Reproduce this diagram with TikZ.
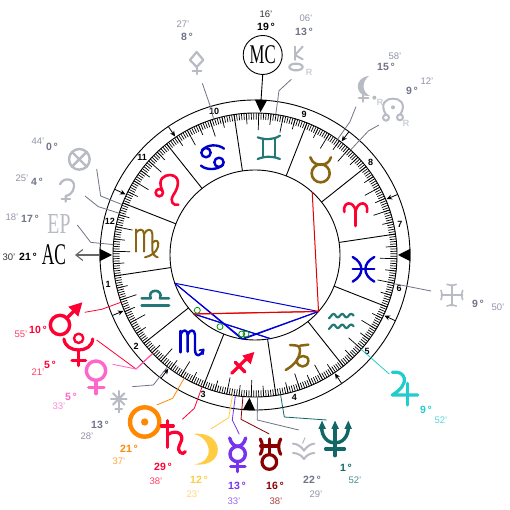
\documentclass[tikz,border=0pt]{standalone}
\usepackage{fontspec}
\setmainfont{Liberation Sans}
\newfontfamily\capsfont{Liberation Serif}
\usetikzlibrary{arrows.meta}
\definecolor{fire}{HTML}{FF0033}
\definecolor{earth}{HTML}{886611}
\definecolor{air}{HTML}{227777}
\definecolor{water}{HTML}{0000CC}
\definecolor{ghost}{HTML}{B8BAC4}
\definecolor{slate}{HTML}{6F7488}
\definecolor{slatelt}{HTML}{9295A8}
\definecolor{orng}{HTML}{FF8800}
\definecolor{yell}{HTML}{FFCC44}
\definecolor{purp}{HTML}{7733EE}
\definecolor{pinkv}{HTML}{FF66CC}
\definecolor{drd}{HTML}{880000}
\definecolor{tealn}{HTML}{116666}
\definecolor{cyanj}{HTML}{22CCCC}
\tikzset{
  center/.style={shift={(255pt,255pt)},x=1pt,y=1pt},
  px/.style={shift={(0pt,510pt)},x=1pt,y=-1pt},
  zA/.style={shift={(0pt,510pt)},x=.33333pt,y=-.33333pt},
  zB/.style={shift={(255pt,510pt)},x=.33333pt,y=-.33333pt},
  zC/.style={shift={(0pt,255pt)},x=.33333pt,y=-.33333pt},
  zD/.style={shift={(255pt,255pt)},x=.33333pt,y=-.33333pt},
  zE/.style={shift={(0pt,310pt)},x=.33333pt,y=-.33333pt},
  ring/.style={draw=black,line width=.9pt},
  cusp/.style={draw=black,line width=.9pt},
  tick/.style={draw=black,line width=.7pt},
  lead/.style={line width=.8pt,line join=round},
  aspb/.style={draw=blue!85!black,line width=1pt},
  aspr/.style={draw=red!90!black,line width=1pt},
  orb/.style={draw=green!60!black,line width=.8pt,fill=none},
  hnum/.style={font=\bfseries\fontsize{9}{10}\selectfont,inner sep=0pt},
  dg/.style={font=\bfseries\fontsize{10.5}{12}\selectfont,inner sep=0pt},
  mn/.style={font=\fontsize{9.5}{11}\selectfont,inner sep=0pt},
  rtag/.style={font=\fontsize{9}{10}\selectfont,text=ghost,inner sep=0pt},
  glyph/.style={line cap=round,line join=round,fill=none},
}
\begin{document}
\begin{tikzpicture}
\useasboundingbox (0pt,0pt) rectangle (510pt,510pt);
\fill[white] (0pt,0pt) rectangle (510pt,510pt);
% ---- wheel ----
\begin{scope}[center]
  \draw[ring] (0,0) circle (155);
  \draw[ring] (0,0) circle (142);
  \draw[ring] (0,0) circle (85);
  \foreach \i in {0,...,359} \draw[tick] ({8.5+\i}:142) -- ({8.5+\i}:135.5);
  \foreach \i in {0,...,11} {
    \draw[cusp] ({8.5+30*\i}:85) -- ({8.5+30*\i}:142);
    \draw[tick] ({18.5+30*\i}:142) -- ({18.5+30*\i}:125);
    \draw[tick] ({28.5+30*\i}:142) -- ({28.5+30*\i}:125);
    \draw[tick] ({13.5+30*\i}:142) -- ({13.5+30*\i}:131);
    \draw[tick] ({23.5+30*\i}:142) -- ({23.5+30*\i}:131);
    \draw[tick] ({33.5+30*\i}:142) -- ({33.5+30*\i}:131);
  }
  % house arrows
  \foreach \a in {23,52.7,124,154.9,203,232.7,304,334.9}
    \draw[line width=.8pt,-{Stealth[length=5.5pt,width=5pt]}] (\a:155) -- (\a:143);
  % angle triangles
  \foreach \a in {0,87.77,180,267.77}
    \fill[black] (\a:143) -- ({\a+2.3}:155.5) -- ({\a-2.3}:155.5) -- cycle;
  % house numbers
  \node[hnum] (h1) at (191.5:150) {1};
  \node[hnum] (h2) at (217.6:150) {2};
  \node[hnum] (h3) at (249.6:149) {3};
  \node[hnum] (h4) at (285.4:148) {4};
  \node[hnum] (h5) at (319.3:148) {5};
  \node[hnum] (h6) at (347:148) {6};
  \node[hnum] (h7) at (12:148) {7};
  \node[hnum] (h8) at (38.6:148) {8};
  \node[hnum] (h9) at (70.7:149) {9};
  \node[hnum] (h10) at (105.9:149) {10};
  \node[hnum] (h11) at (139.2:149) {11};
  \node[hnum] (h12) at (167.1:149) {12};
  % aspect anchors
  \coordinate (aMars) at (199.42:85);
  \coordinate (aJup) at (318.37:85);
  \coordinate (aNode) at (47.7:85);
  \coordinate (aPluto) at (223.85:85);
  \coordinate (aVenus) at (224.05:85);
  \coordinate (aMoon) at (260.88:85);
  \coordinate (aMerc) at (262.05:85);
  \coordinate (aNep) at (280.37:85);
  \draw[aspb] (aMars) -- (aJup);
  \draw[aspb] (aMars) -- (aMoon);
  \draw[aspb] (aMars) -- (aMerc);
  \draw[aspb] (aJup) -- (aMoon);
  \draw[aspb] (aJup) -- (aMerc);
  \draw[aspb] (aPluto) -- (aNep);
  \draw[aspb] (aVenus) -- (aNep);
  \draw[aspr] (aNode) -- (aJup);
  \draw[aspr] (aJup) -- (aPluto);
  \draw[aspr] (aJup) -- (aVenus);
  % ring ends of the leaders
  \coordinate (rMars) at (199.42:142);
  \coordinate (rPluto) at (223.85:142);
  \coordinate (rVenus) at (224.05:142);
  \coordinate (rStar) at (231.97:142);
  \coordinate (rSun) at (240.12:142);
  \coordinate (rSat) at (248.13:142);
  \coordinate (rMoon) at (260.88:142);
  \coordinate (rMerc) at (262.05:142);
  \coordinate (rUra) at (265.13:142);
  \coordinate (rFork) at (270.98:142);
  \coordinate (rNep) at (280.37:142);
  \coordinate (rJup) at (318.37:142);
  \coordinate (rCross) at (348.33:142);
  \coordinate (rChir) at (81.6:142);
  \coordinate (rLil) at (54.47:142);
  \coordinate (rHorse) at (47.7:142);
  \coordinate (rDia) at (106.95:142);
  \coordinate (rPof) at (159.23:142);
  \coordinate (rCer) at (162.92:142);
  \coordinate (rEP) at (175.8:142);
  \coordinate (rAC) at (180:155);
  \coordinate (rMC) at (87.77:155);
\end{scope}
% green orbs
\begin{scope}[px]
  \draw[orb] (197.3,310.3) circle (3);
  \draw[orb] (220,326.7) circle (3);
  \draw[orb] (241.7,334) circle (3);
  \draw[orb] (246,334) circle (3);
\end{scope}
% ---- leaders ----
\begin{scope}[zC]
  \draw[lead,fire] (rMars) -- (305,163) -- (254,172);
  \draw[lead,fire] (rPluto) -- (408,342) -- (290,255);
  \draw[lead,pinkv] (rVenus) -- (408,342) -- (338,328);
  \draw[lead,slate] (rStar) -- (460,390) -- (397,395);
  \draw[lead,orng] (rSun) -- (518,430) -- (470,450);
  \draw[lead,fire] (rSat) -- (583,460) -- (547,493);
\end{scope}
\begin{scope}[px]
  \draw[lead,yell] (rMoon) -- (228.7,417.7) -- (210.7,429);
  \draw[lead,purp] (rMerc) -- (232.3,420) -- (239.3,434.3);
  \draw[lead,drd] (rUra) -- (241,419.3) -- (269.3,434);
  \draw[lead,slate] (rFork) -- (257.3,420) -- (298.7,430);
  \draw[lead,tealn] (rNep) -- (284.3,417) -- (326.7,420);
  \draw[lead,cyanj] (rJup) -- (389.3,374);
  \draw[lead,slate] (rCross) -- (431,291);
\end{scope}
\begin{scope}[zB]
  \draw[lead,slate] (rChir) -- (72,272) -- (109,238);
  \draw[lead,slate] (rLil) -- (285,365) -- (303,320);
  \draw[lead,slate] (rHorse) -- (340,393) -- (372,375);
\end{scope}
\begin{scope}[zA]
  \draw[lead,slate] (rDia) -- (633,325) -- (607,250);
  \draw[lead,slate] (rPof) -- (302,588) -- (290,507);
  \draw[lead,slate] (rCer) -- (295,620) -- (255,588);
  \draw[lead,slate] (rEP) -- (272,727) -- (232,675);
\end{scope}
% ---- zodiac glyphs ----
\begin{scope}[zA,glyph]
  % Cancer
  \draw[water,line width=2.4pt] (618,458) circle (14);
  \draw[water,line width=2.4pt] (606,452) .. controls (620,432) and (655,432) .. (672,446);
  \draw[water,line width=2.4pt] (657,487) circle (14);
  \draw[water,line width=2.4pt] (670,493) .. controls (655,510) and (620,512) .. (603,497);
  % Leo
  \draw[fire,line width=2.6pt] (478,578) circle (11);
  \draw[fire,line width=2.6pt] (487,572) .. controls (470,535) and (495,525) .. (510,525) .. controls (545,527) and (535,565) .. (520,585) .. controls (508,605) and (520,618) .. (535,614);
\end{scope}
\begin{scope}[zE,glyph]
  % Virgo
  \draw[earth,line width=2pt] (407,88) -- (407,155);
  \draw[earth,line width=2pt] (407,100) .. controls (415,85) and (432,85) .. (432,102) -- (432,155);
  \draw[earth,line width=2pt] (432,102) .. controls (440,85) and (457,85) .. (457,102) -- (457,150) .. controls (457,162) and (465,170) .. (473,172);
  \draw[earth,line width=2pt] (457,128) .. controls (470,115) and (478,125) .. (474,140) .. controls (470,155) and (455,168) .. (435,172);
\end{scope}
\begin{scope}[zB,glyph]
  % Gemini
  \draw[air,line width=2.2pt] (8,412) .. controls (30,420) and (55,420) .. (75,407);
  \draw[air,line width=2.2pt] (8,477) .. controls (30,468) and (55,468) .. (75,477);
  \draw[air,line width=2.2pt] (23,416) -- (23,472);
  \draw[air,line width=2.2pt] (60,416) -- (60,472);
  % Taurus
  \draw[earth,line width=2.6pt] (197,520) circle (27);
  \draw[earth,line width=2.6pt] (166,472) .. controls (172,490) and (185,494) .. (197,494) .. controls (210,494) and (222,490) .. (228,472);
  % Aries
  \draw[fire,line width=2.6pt] (302,678) -- (302,632);
  \draw[fire,line width=2.6pt] (302,632) .. controls (295,600) and (262,605) .. (268,636);
  \draw[fire,line width=2.6pt] (302,632) .. controls (310,600) and (342,605) .. (336,636);
\end{scope}
\begin{scope}[zD,glyph]
  % Pisces
  \draw[water,line width=2.4pt] (293,6) .. controls (328,25) and (328,60) .. (293,80);
  \draw[water,line width=2.4pt] (358,6) .. controls (322,25) and (322,60) .. (358,80);
  \draw[water,line width=2.4pt] (293,42) -- (358,42);
  % Aquarius
  \draw[air,line width=2.2pt,rounded corners=2pt] (222,190) -- (236,174) -- (248,190) -- (262,174) -- (274,190) -- (288,174) -- (296,182);
  \draw[air,line width=2.2pt,rounded corners=2pt] (222,222) -- (236,206) -- (248,222) -- (262,206) -- (274,222) -- (288,206) -- (296,214);
  % Capricorn
  \draw[earth,line width=2.5pt] (105,270) .. controls (120,272) and (135,268) .. (135,285) .. controls (135,315) and (110,335) .. (92,345);
  \draw[earth,line width=2.5pt] (135,272) -- (160,269);
  \draw[earth,line width=2.5pt] (125,318) .. controls (128,298) and (162,298) .. (160,318) .. controls (158,340) and (128,340) .. (125,318);
\end{scope}
\begin{scope}[zC,glyph]
  % Libra
  \draw[air,line width=2.6pt] (425,152) -- (507,152);
  \draw[air,line width=2.6pt] (425,130) -- (452,130) .. controls (440,100) and (492,100) .. (480,130) -- (507,130);
  % Scorpio
  \draw[water,line width=2.4pt] (541,228) -- (541,292);
  \draw[water,line width=2.4pt] (541,240) .. controls (546,222) and (563,222) .. (563,240) -- (563,290);
  \draw[water,line width=2.4pt] (563,240) .. controls (568,222) and (585,222) .. (585,240) -- (585,285) .. controls (587,310) and (602,302) .. (610,286);
  \draw[water,line width=1.6pt] (598,286) -- (611,283) -- (609,298);
\end{scope}
% Sagittarius
\begin{scope}[zC,glyph]
  \draw[fire,line width=3.2pt] (695,355) -- (748,303);
  \draw[fire,line width=3.2pt] (706,322) -- (735,351);
  \fill[fire] (763,291) -- (727,302) -- (752,328) -- cycle;
\end{scope}
% ---- planet glyphs ----
\begin{scope}[zC,glyph]
  % Mars
  \draw[fire,line width=3.4pt] (180,210) circle (29);
  \draw[fire,line width=3.4pt] (200,190) -- (232,158);
  \fill[fire] (247,142) -- (205,155) -- (235,185) -- cycle;
  % Pluto
  \draw[fire,line width=2.4pt] (236,250) circle (14);
  \draw[fire,line width=3.2pt] (192,252) .. controls (196,296) and (276,296) .. (278,252);
  \draw[fire,line width=3.2pt] (236,285) -- (236,332);
  \draw[fire,line width=3.2pt] (216,317) -- (257,317);
  % Venus
  \draw[pinkv,line width=3.4pt] (288,347) circle (29);
  \draw[pinkv,line width=3.4pt] (288,377) -- (288,416);
  \draw[pinkv,line width=3.4pt] (266,397) -- (312,397);
  % star
  \draw[ghost,line width=2pt] (356,408) -- (356,472);
  \draw[ghost,line width=2pt] (333,432) -- (380,432);
  \draw[ghost,line width=2pt] (339,415) -- (373,449);
  \draw[ghost,line width=2pt] (373,415) -- (339,449);
  \draw[ghost,line width=2pt] (346,462) -- (366,462);
  % Sun
  \draw[orng,line width=4.4pt] (434,501) circle (44);
  \fill[orng] (434,501) circle (11);
  % Saturn
  \draw[fire,line width=3.2pt] (502,497) -- (502,577);
  \draw[fire,line width=3.2pt] (484,513) -- (520,513);
  \draw[fire,line width=3.2pt] (502,540) .. controls (520,525) and (550,530) .. (545,555) .. controls (540,570) and (530,580) .. (540,592) .. controls (545,598) and (552,596) .. (556,590);
  % Moon
  \fill[yell] (580,537) .. controls (675,525) and (680,640) .. (583,628) .. controls (650,620) and (632,545) .. (580,537) -- cycle;
  % Mercury
  \draw[purp,line width=3.4pt] (713,597) circle (23);
  \draw[purp,line width=3.4pt] (689,549) .. controls (697,582) and (729,582) .. (737,549);
  \draw[purp,line width=3.4pt] (713,620) -- (713,650);
  \draw[purp,line width=3.4pt] (692,635) -- (735,635);
\end{scope}
\begin{scope}[zD,glyph]
  % Uranus
  \draw[drd,line width=3.2pt] (43,621) circle (22);
  \draw[drd,line width=3.2pt] (43,552) -- (43,598);
  \draw[drd,line width=3.2pt] (17,573) -- (69,573);
  \draw[drd,line width=3.2pt] (16,552) .. controls (24,565) and (24,585) .. (16,598);
  \draw[drd,line width=3.2pt] (77,552) .. controls (69,565) and (69,585) .. (77,598);
  % fork glyph
  \draw[ghost,line width=2pt] (114,566) .. controls (125,566) and (140,575) .. (147,587) .. controls (154,575) and (168,566) .. (178,566);
  \draw[ghost,line width=2pt] (114,594) .. controls (125,594) and (140,600) .. (147,612) .. controls (154,600) and (168,594) .. (178,594);
  \draw[ghost,line width=1pt] (143,565) -- (150,548);
  % Neptune
  \draw[tealn,line width=3.4pt] (200,516) .. controls (200,580) and (280,580) .. (280,516);
  \draw[tealn,line width=3.4pt] (240,516) -- (240,602);
  \draw[tealn,line width=3.4pt] (212,582) -- (268,582);
  \fill[tealn] (190,522) -- (201,497) -- (213,522) -- cycle;
  \fill[tealn] (229,522) -- (240,497) -- (252,522) -- cycle;
  \fill[tealn] (268,522) -- (280,497) -- (291,522) -- cycle;
  % Jupiter
  \draw[cyanj,line width=3.2pt] (412,352) .. controls (450,345) and (470,385) .. (412,420) -- (488,420);
  \draw[cyanj,line width=3.2pt] (458,385) -- (458,450);
  % cross glyph
  \draw[ghost,line width=2pt] (590,90) -- (590,152);
  \draw[ghost,line width=2pt] (559,120) -- (622,120);
  \draw[ghost,line width=1.6pt] (576,88) .. controls (585,93) and (595,93) .. (604,88);
  \draw[ghost,line width=1.6pt] (576,153) .. controls (585,148) and (595,148) .. (604,153);
  \draw[ghost,line width=1.6pt] (558,106) .. controls (563,115) and (563,125) .. (558,134);
  \draw[ghost,line width=1.6pt] (623,106) .. controls (618,115) and (618,125) .. (623,134);
\end{scope}
\begin{scope}[zA,glyph]
  % diamond glyph
  \draw[ghost,line width=2.2pt] (590,156) -- (610,180) -- (590,201) -- (570,180) -- cycle;
  \draw[ghost,line width=2.2pt] (590,201) -- (590,222);
  \draw[ghost,line width=2.2pt] (578,213) -- (604,213);
  % circled cross
  \draw[ghost,line width=2.4pt] (238,478) circle (31);
  \draw[ghost,line width=2.4pt] (216,456) -- (260,500);
  \draw[ghost,line width=2.4pt] (260,456) -- (216,500);
  % hook glyph
  \draw[ghost,line width=2.2pt] (180,553) .. controls (190,530) and (225,535) .. (222,560) .. controls (220,580) and (205,587) .. (197,588) -- (197,605);
  \draw[ghost,line width=2.2pt] (185,597) -- (210,597);
\end{scope}
\begin{scope}[zB,glyph]
  % Chiron
  \draw[ghost,line width=2pt] (120,140) -- (120,180);
  \draw[ghost,line width=2pt] (120,165) -- (143,140);
  \draw[ghost,line width=2pt] (120,165) -- (143,178);
  \draw[ghost,line width=2.2pt] (123,201) ellipse (20 and 10);
  % crescent cross
  \fill[ghost] (342,228) .. controls (295,232) and (298,292) .. (345,288) .. controls (322,278) and (318,246) .. (342,228) -- cycle;
  \draw[ghost,line width=2.2pt] (325,285) -- (325,305);
  \draw[ghost,line width=2.2pt] (312,295) -- (340,295);
  \fill[ghost] (358,293) circle (6);
  % horseshoe
  \draw[ghost,line width=2pt] (393,344) .. controls (372,310) and (395,295) .. (414,296) .. controls (433,295) and (456,310) .. (436,344);
  \draw[ghost,line width=2pt] (393,353) circle (9);
  \draw[ghost,line width=2pt] (435,352) circle (9);
  \fill[ghost] (414,322) circle (6);
\end{scope}
% ---- MC and AC ----
\begin{scope}[px]
  \node[circle,draw=black,line width=.9pt,minimum size=39pt,inner sep=0pt] (mc) at (262.7,55) {};
  \node[inner sep=0pt,font=\capsfont\fontsize{27}{27}\selectfont] (mct) at (262.7,55) {\scalebox{.62}[1]{MC}};
  \node[inner sep=0pt,font=\capsfont\fontsize{30}{30}\selectfont] (act) at (54,255) {\scalebox{.58}[1]{AC}};
  \node[inner sep=0pt,font=\capsfont\fontsize{29}{29}\selectfont,text=ghost] (ept) at (59,224) {\scalebox{.68}[1]{EP}};
  \coordinate (acend) at (75,255);
  \draw[black,line width=.9pt] (mc.south) -- (rMC);
  \draw[black!60,line width=1.1pt,-{Straight Barb[length=7pt,width=11pt]}] (rAC) -- (acend);
  % degree labels
  \node[dg,text=black] (d1) at (266,27) {19\,°};
  \node[mn,text=black!80] (m1) at (266,14) {16'};
  \node[dg,text=slate] (d2) at (304,32) {13\,°};
  \node[mn,text=slatelt] (m2) at (306,18) {06'};
  \node[rtag] (r2) at (309,72) {R};
  \node[dg,text=slate] (d3) at (386,67) {15\,°};
  \node[mn,text=slatelt] (m3) at (395,56) {58'};
  \node[rtag] (r3) at (380,102) {R};
  \node[dg,text=slate] (d4) at (412,91) {9\,°};
  \node[mn,text=slatelt] (m4) at (427,81) {12'};
  \node[rtag] (r4) at (406,123) {R};
  \node[dg,text=slate] (d5) at (187,37) {8\,°};
  \node[mn,text=slatelt] (m5) at (183,24) {27'};
  \node[dg,text=slate] (d6) at (52,147) {0\,°};
  \node[mn,text=slatelt] (m6) at (38,141) {44'};
  \node[dg,text=slate] (d7) at (37,182) {4\,°};
  \node[mn,text=slatelt] (m7) at (22,178) {25'};
  \node[dg,text=slate] (d8) at (30,219) {17\,°};
  \node[mn,text=slatelt] (m8) at (12,217) {18'};
  \node[dg,text=black] (d9) at (28,257) {21\,°};
  \node[mn,text=black!80] (m9) at (9,257) {30'};
  \node[dg,text=fire] (d10) at (38,330) {10\,°};
  \node[mn,text=fire!75] (m10) at (21,334) {55'};
  \node[dg,text=fire] (d11) at (50,365) {5\,°};
  \node[mn,text=fire!75] (m11) at (38,372) {21'};
  \node[dg,text=pinkv] (d12) at (71,397) {5\,°};
  \node[mn,text=pinkv!75] (m12) at (59,406) {33'};
  \node[dg,text=slate] (d13) at (100,425) {13\,°};
  \node[mn,text=slatelt] (m13) at (87,436) {28'};
  \node[dg,text=orng] (d14) at (129,449) {21\,°};
  \node[mn,text=orng!75] (m14) at (119,461) {37'};
  \node[dg,text=fire] (d15) at (163,467) {29\,°};
  \node[mn,text=fire!75] (m15) at (156,481) {38'};
  \node[dg,text=yell] (d16) at (199,480) {12\,°};
  \node[mn,text=yell!75] (m16) at (193,494) {23'};
  \node[dg,text=purp] (d17) at (237,486) {13\,°};
  \node[mn,text=purp!75] (m17) at (234,501) {33'};
  \node[dg,text=drd] (d18) at (275,486) {16\,°};
  \node[mn,text=drd!75] (m18) at (276,501) {38'};
  \node[dg,text=slate] (d19) at (312,480) {22\,°};
  \node[mn,text=slatelt] (m19) at (316,494) {29'};
  \node[dg,text=tealn] (d20) at (346,468) {1\,°};
  \node[mn,text=tealn!75] (m20) at (355,480) {52'};
  \node[dg,text=cyanj] (d21) at (426,410) {9\,°};
  \node[mn,text=cyanj!75] (m21) at (441,420) {52'};
  \node[dg,text=slate] (d22) at (478,304) {9\,°};
  \node[mn,text=slatelt] (m22) at (498,307) {50'};
\end{scope}
\end{tikzpicture}
\end{document}
